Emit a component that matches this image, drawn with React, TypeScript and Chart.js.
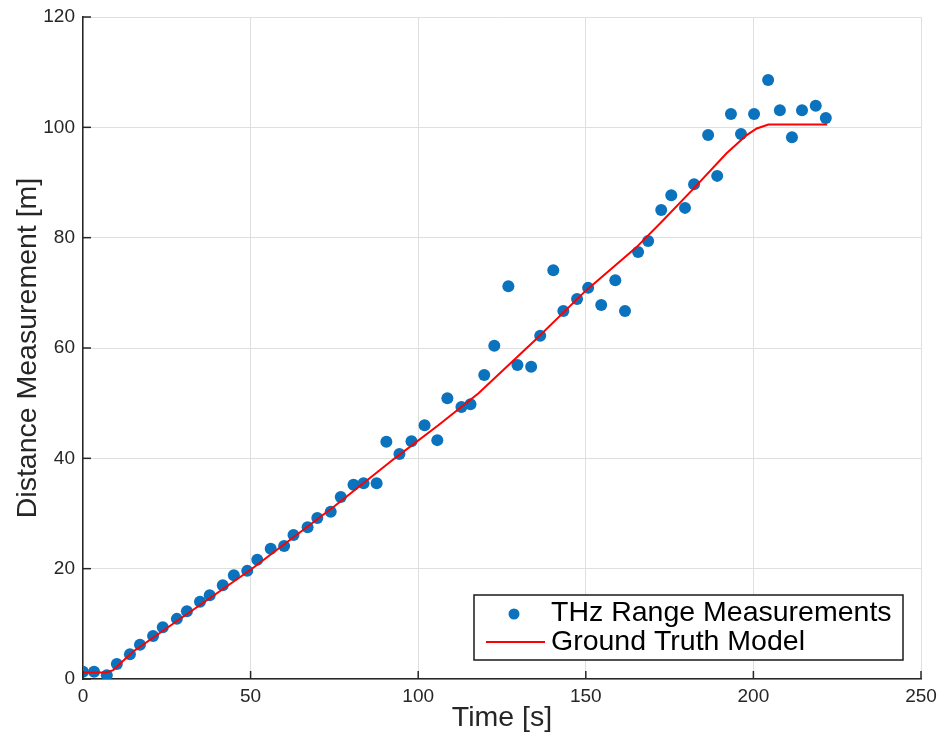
import React, { useEffect, useRef } from "react";
import { Chart, registerables } from "chart.js";

Chart.register(...registerables);

const measTime = [0, 3.3, 7.1, 10.1, 14, 17, 20.9, 23.8, 28, 31, 34.9, 37.8, 41.7, 45, 49, 52, 56, 60, 62.8, 67, 69.9, 73.9, 76.9, 80.7, 83.7, 87.6, 90.5, 94.4, 98, 101.9, 105.7, 108.7, 112.9, 115.6, 119.7, 122.7, 126.9, 129.6, 133.7, 136.4, 140.3, 143.3, 147.4, 150.7, 154.6, 158.8, 161.7, 165.6, 168.6, 172.5, 175.5, 179.6, 182.3, 186.5, 189.2, 193.3, 196.3, 200.2, 204.4, 207.9, 211.5, 214.5, 218.6, 221.6];
const measDist = [1.3, 1.3, 0.7, 2.7, 4.5, 6.2, 7.8, 9.4, 10.9, 12.3, 14, 15.2, 17, 18.8, 19.6, 21.6, 23.6, 24.1, 26.1, 27.5, 29.2, 30.3, 33, 35.2, 35.5, 35.5, 43, 40.8, 43.1, 46, 43.3, 50.9, 49.3, 49.8, 55.1, 60.4, 71.2, 56.9, 56.6, 62.2, 74.1, 66.7, 68.9, 70.9, 67.8, 72.3, 66.7, 77.4, 79.4, 85, 87.7, 85.4, 89.7, 98.6, 91.2, 102.4, 98.8, 102.4, 108.6, 103.1, 98.2, 103.1, 103.9, 101.7];

const truthTime = [0, 7, 9, 12, 15, 50, 75, 93, 106, 118, 135, 150, 165, 172.5, 182, 192, 198, 201, 204.5, 222];
const truthDist = [1.2, 1.2, 1.6, 3.3, 5, 19.8, 31.3, 40, 46, 51.8, 61.5, 70.4, 78.2, 82.8, 88.8, 95.3, 98.6, 99.8, 100.5, 100.5];

const xTicks = [0, 50, 100, 150, 200, 250];
const yTicks = [0, 20, 40, 60, 80, 100, 120];

const legendLabels = ["THz Range Measurements", "Ground Truth Model"];
const xTitle = "Time [s]";
const yTitle = "Distance Measurement [m]";

const FONT = "'Liberation Sans', Arial, Helvetica, sans-serif";
const BLUE = "#0b72bd";
const RED = "#ff0000";

const overlayPlugin = {
  id: "overlay",
  afterDatasetsDraw(chart: any) {
    const ctx = chart.ctx;
    const xs = chart.scales.x;
    const ys = chart.scales.y;
    const area = chart.chartArea;
    ctx.save();
    // inward tick marks
    ctx.strokeStyle = "#262626";
    ctx.lineWidth = 1.5;
    xTicks.forEach((t) => {
      const px = xs.getPixelForValue(t);
      ctx.beginPath();
      ctx.moveTo(px, area.bottom);
      ctx.lineTo(px, area.bottom - 8);
      ctx.stroke();
    });
    yTicks.forEach((t) => {
      const py = ys.getPixelForValue(t);
      ctx.beginPath();
      ctx.moveTo(area.left, py);
      ctx.lineTo(area.left + 8, py);
      ctx.stroke();
    });
    // legend
    const bx = 474, by = 595, bw = 429, bh = 65;
    ctx.fillStyle = "#ffffff";
    ctx.fillRect(bx, by, bw, bh);
    ctx.strokeStyle = "#1a1a1a";
    ctx.lineWidth = 1.5;
    ctx.strokeRect(bx, by, bw, bh);
    ctx.fillStyle = BLUE;
    ctx.beginPath();
    ctx.arc(514, 614, 5.5, 0, Math.PI * 2);
    ctx.fill();
    ctx.strokeStyle = RED;
    ctx.lineWidth = 2;
    ctx.beginPath();
    ctx.moveTo(486, 642);
    ctx.lineTo(545, 642);
    ctx.stroke();
    ctx.fillStyle = "#000000";
    ctx.font = `28.5px ${FONT}`;
    ctx.textBaseline = "middle";
    ctx.textAlign = "left";
    ctx.fillText(legendLabels[0], 551, 613);
    ctx.fillText(legendLabels[1], 551, 642);
    ctx.restore();
  },
};

export default function App() {
  const ref = useRef<HTMLCanvasElement>(null);
  useEffect(() => {
    if (!ref.current) return;
    const chart = new Chart(ref.current, {
      type: "scatter",
      data: {
        datasets: [
          {
            type: "line",
            label: legendLabels[1],
            data: truthTime.map((t, i) => ({ x: t, y: truthDist[i] })),
            borderColor: RED,
            borderWidth: 2,
            pointRadius: 0,
            fill: false,
            tension: 0,
            order: 0,
          } as any,
          {
            type: "scatter",
            label: legendLabels[0],
            data: measTime.map((t, i) => ({ x: t, y: measDist[i] })),
            backgroundColor: BLUE,
            borderWidth: 0,
            pointRadius: 6,
            order: 1,
          },
        ],
      },
      options: {
        responsive: false,
        animation: false,
        layout: { padding: { top: 17, right: 19, left: 0, bottom: 0 } },
        plugins: { legend: { display: false }, tooltip: { enabled: false } },
        scales: {
          x: {
            type: "linear",
            min: 0,
            max: 250,
            afterFit: (s: any) => {
              s.height = 56;
              s.paddingLeft = 0;
              s.paddingRight = 0;
            },
            afterBuildTicks: (s: any) => {
              s.ticks = xTicks.map((v) => ({ value: v }));
            },
            ticks: {
              color: "#262626",
              font: { family: FONT, size: 19 },
              padding: 6,
              maxRotation: 0,
            },
            grid: { color: "#dfdfdf", lineWidth: 1, tickLength: 0 },
            border: { display: true, color: "#262626", width: 1.5 },
            title: {
              display: true,
              text: xTitle,
              color: "#262626",
              font: { family: FONT, size: 28.5 },
              padding: { top: 0, bottom: 0 },
            },
          },
          y: {
            type: "linear",
            min: 0,
            max: 120,
            afterFit: (s: any) => {
              s.width = 83;
              s.paddingTop = 0;
              s.paddingBottom = 0;
            },
            afterBuildTicks: (s: any) => {
              s.ticks = yTicks.map((v) => ({ value: v }));
            },
            ticks: {
              color: "#262626",
              font: { family: FONT, size: 19 },
              padding: 8,
            },
            grid: { color: "#dfdfdf", lineWidth: 1, tickLength: 0 },
            border: { display: true, color: "#262626", width: 1.5 },
            title: {
              display: true,
              text: yTitle,
              color: "#262626",
              font: { family: FONT, size: 28.5 },
              padding: { top: 11, bottom: 0 },
            },
          },
        },
      },
      plugins: [overlayPlugin],
    });
    return () => chart.destroy();
  }, []);
  return (
    <div style={{ position: "absolute", left: 0, top: 0, width: 940, height: 735, background: "#fff" }}>
      <canvas ref={ref} width={940} height={735} style={{ display: "block" }} />
    </div>
  );
}
